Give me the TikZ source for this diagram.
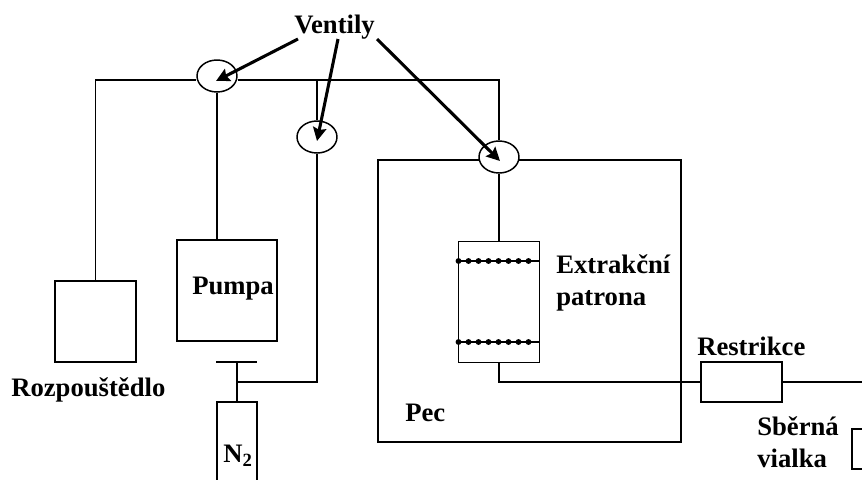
\documentclass[tikz,border=0pt]{standalone}
\usepackage{fontspec}
\usetikzlibrary{shapes.geometric, arrows.meta}
\setmainfont{Liberation Serif}
\tikzset{
  box/.style={draw, line width=1.1pt, inner sep=0pt, rectangle},
  ventil/.style={draw, fill=white, line width=1.1pt, ellipse, inner sep=0pt, minimum width=30pt, minimum height=24pt},
  popis/.style={font=\fontsize{20}{24}\selectfont\bfseries, anchor=base west, inner sep=0pt},
  spoj/.style={line width=1.1pt},
  sipka/.style={line width=2.3pt, -{Stealth[length=10pt, width=10pt, inset=1.5pt]}},
}
\begin{document}
\begin{tikzpicture}[x=0.75pt, y=-0.75pt]
  \path[use as bounding box, clip] (0,0) rectangle (862,479);

  % Pec and boxes
  \node[box, minimum width=227.25pt, minimum height=211.5pt] (pec) at (529.5,301) {};
  \node[box, minimum width=60.75pt, minimum height=60.75pt] (rozp) at (95.5,321.5) {};
  \node[box, minimum width=75pt, minimum height=75.75pt] (pumpa) at (227,290.5) {};
  \node[box, minimum width=30pt, minimum height=73.5pt] (lahev) at (237,451) {};
  \node[box, minimum width=60.75pt, minimum height=90.75pt] (patrona) at (499,302) {};
  \node[box, minimum width=60.75pt, minimum height=30pt] (restrikce) at (741.5,382) {};
  \node[box, minimum width=36pt, minimum height=30pt] (vialka) at (876,449) {};

  % Valves
  \node[ventil] (ventil1) at (217,76) {};
  \node[ventil] (ventil2) at (317,137) {};
  \node[ventil] (ventil3) at (499,157) {};

  % Junctions
  \coordinate (rohL) at (95.5,80);
  \coordinate (rohP) at (499,80);
  \coordinate (odbocka) at (317,80);
  \coordinate (tcko) at (237,362);
  \coordinate (tckoL) at (216,362);
  \coordinate (tckoP) at (257,362);
  \coordinate (vstup) at (237,382);

  % Tubing
  \draw[spoj] (rozp.north) -- (rohL) -- (ventil1.west |- rohL);
  \draw[spoj] (ventil1.east |- rohL) -- (rohP) -- (ventil3.north);
  \draw[spoj] (ventil1.south) -- (ventil1.south |- pumpa.north);
  \draw[spoj] (odbocka) -- (ventil2.north);
  \draw[spoj] (ventil2.south) |- (vstup);
  \draw[spoj] (lahev.north) -- (tcko);
  \draw[spoj] (tckoL) -- (tckoP);
  \draw[spoj] (ventil3.south) -- (patrona.north);
  \draw[spoj] (patrona.south) |- (restrikce.west);
  \draw[spoj] (restrikce.east) -| (vialka.north);

  % Packing in the cartridge
  \foreach \y in {261,342} {
    \draw[spoj] (458.5,\y) -- (539.5,\y);
    \foreach \x in {0,...,7}
      \fill (458.5+10*\x,\y) circle (2.2pt);
  }

  % Labels
  \node[popis] (ventily) at (294,33) {Ventily};
  \node[popis] (trozp) at (11,396) {Rozpouštědlo};
  \node[popis] (tpumpa) at (192,294) {Pumpa};
  \node[popis] (tn2) at (223,462) {N\textsubscript{2}};
  \node[popis] (tpatrona) at (556,273) {Extrakční};
  \node[popis] (tpatrona2) at (556,305) {patrona};
  \node[popis] (tpec) at (405,421) {Pec};
  \node[popis] (trestrikce) at (697,355) {Restrikce};
  \node[popis] (tvialka) at (757,435) {Sběrná};
  \node[popis] (tvialka2) at (757,467) {vialka};

  % Arrows
  \coordinate (hrot1) at (216,81);
  \coordinate (hrot2) at (317,141);
  \coordinate (hrot3) at (500,161);
  \draw[sipka] (298,39) -- (hrot1);
  \draw[sipka] (338,39) -- (hrot2);
  \draw[sipka] (377,39) -- (hrot3);
\end{tikzpicture}
\end{document}
